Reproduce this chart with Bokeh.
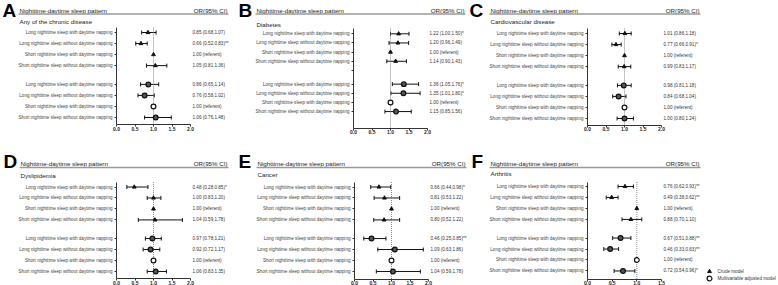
import numpy as np
from bokeh.plotting import figure
from bokeh.models import (Range1d, LinearAxis, FixedTicker, ColumnDataSource,
                          Whisker, TeeHead, PrintfTickFormatter)
from bokeh.layouts import column, row
from bokeh.embed import file_html
from bokeh.resources import INLINE
from bokeh.core.properties import value

FONT = "Liberation Sans"

# ---------------- data ----------------
row_labels = ["Long nighttime sleep with daytime napping",
              "Long nighttime sleep without daytime napping",
              "Short nighttime sleep with daytime napping",
              "Short nighttime sleep without daytime napping"]
letters = ["A", "B", "C", "D", "E", "F"]
diseases = ["Any of the chronic disease", "Diabetes", "Cardiovascular disease",
            "Dyslipidemia", "Cancer", "Arthritis"]
header_left = "Nighttime-daytime sleep pattern"
header_right = "OR(95% CI)"
legend_labels = ["Crude model", "Multivariable adjusted model"]
x_ticks_20 = [0.0, 0.5, 1.0, 1.5, 2.0]
x_ticks_15 = [0.0, 0.5, 1.0, 1.5]

# A: any chronic disease
a_crude_or = [0.85, 0.66, 1.00, 1.05]
a_crude_lo = [0.68, 0.52, None, 0.81]
a_crude_hi = [1.07, 0.83, None, 1.36]
a_crude_sig = ["", "**", "", ""]
a_adj_or = [0.86, 0.76, 1.00, 1.06]
a_adj_lo = [0.65, 0.58, None, 0.76]
a_adj_hi = [1.14, 1.02, None, 1.48]
a_adj_sig = ["", "", "", ""]

# B: diabetes
b_crude_or = [1.22, 1.20, 1.00, 1.14]
b_crude_lo = [1.00, 0.96, None, 0.90]
b_crude_hi = [1.50, 1.49, None, 1.43]
b_crude_sig = ["*", "", "", ""]
b_adj_or = [1.36, 1.35, 1.00, 1.15]
b_adj_lo = [1.05, 1.01, None, 0.85]
b_adj_hi = [1.76, 1.80, None, 1.56]
b_adj_sig = ["*", "*", "", ""]

# C: cardiovascular disease
c_crude_or = [1.01, 0.77, 1.00, 0.99]
c_crude_lo = [0.86, 0.66, None, 0.83]
c_crude_hi = [1.18, 0.91, None, 1.17]
c_crude_sig = ["", "*", "", ""]
c_adj_or = [0.98, 0.84, 1.00, 1.00]
c_adj_lo = [0.81, 0.68, None, 0.80]
c_adj_hi = [1.18, 1.04, None, 1.24]
c_adj_sig = ["", "", "", ""]

# D: dyslipidemia
d_crude_or = [0.48, 1.00, 1.00, 1.04]
d_crude_lo = [0.28, 0.83, None, 0.59]
d_crude_hi = [0.85, 1.20, None, 1.78]
d_crude_sig = ["*", "", "", ""]
d_adj_or = [0.97, 0.92, 1.00, 1.06]
d_adj_lo = [0.78, 0.72, None, 0.83]
d_adj_hi = [1.21, 1.17, None, 1.35]
d_adj_sig = ["", "", "", ""]

# E: cancer
e_crude_or = [0.66, 0.81, 1.00, 0.80]
e_crude_lo = [0.44, 0.53, None, 0.52]
e_crude_hi = [0.98, 1.22, None, 1.22]
e_crude_sig = ["*", "", "", ""]
e_adj_or = [0.46, 1.09, 1.00, 1.04]
e_adj_lo = [0.25, 0.63, None, 0.59]
e_adj_hi = [0.85, 1.86, None, 1.78]
e_adj_sig = ["**", "", "", ""]

# F: arthritis
f_crude_or = [0.76, 0.49, 1.00, 0.88]
f_crude_lo = [0.62, 0.38, None, 0.70]
f_crude_hi = [0.93, 0.62, None, 1.10]
f_crude_sig = ["**", "**", "", ""]
f_adj_or = [0.67, 0.46, 1.00, 0.72]
f_adj_lo = [0.51, 0.33, None, 0.54]
f_adj_hi = [0.88, 0.63, None, 0.96]
f_adj_sig = ["**", "**", "", "*"]

panels_data = [
    ((a_crude_or, a_crude_lo, a_crude_hi, a_crude_sig), (a_adj_or, a_adj_lo, a_adj_hi, a_adj_sig)),
    ((b_crude_or, b_crude_lo, b_crude_hi, b_crude_sig), (b_adj_or, b_adj_lo, b_adj_hi, b_adj_sig)),
    ((c_crude_or, c_crude_lo, c_crude_hi, c_crude_sig), (c_adj_or, c_adj_lo, c_adj_hi, c_adj_sig)),
    ((d_crude_or, d_crude_lo, d_crude_hi, d_crude_sig), (d_adj_or, d_adj_lo, d_adj_hi, d_adj_sig)),
    ((e_crude_or, e_crude_lo, e_crude_hi, e_crude_sig), (e_adj_or, e_adj_lo, e_adj_hi, e_adj_sig)),
    ((f_crude_or, f_crude_lo, f_crude_hi, f_crude_sig), (f_adj_or, f_adj_lo, f_adj_hi, f_adj_sig)),
]
x_ticks_per_panel = [x_ticks_20] * 5 + [x_ticks_15]

# ---------------- layout (pixels) ----------------
col_w = [236, 231, 311]
row_h = [150, 135]
axis_px = [[116, 117, 120], [116, 118, 120]]
header_px = [[19, 20, 23], [20, 21, 23]]
letter_px = [[2, 2, 2], [3, 2, 4]]
or_end_px = [[227, 228, 232], [227, 229, 232]]
header_y = [9.5, 13]
letter_y = [9.5, 10.5]
row0_px = [32, 33.3, 33, 36.5, 36.5, 36]
row_sp = [11.04, 9.15, 11.04, 10.97, 10.97, 10.97]
xaxis_px = [124, 127.5, 124.5, 128, 128.5, 128.5]
ytop_px = [27, 28, 28, 31.5, 31.5, 31.5]
sub_y = [20.7, 23.5, 21, 25, 24, 23]
AXIS_LEN = 74.0
crude_slots = [0, 1, 2, 3]
adj_slots = [4.7, 5.7, 6.7, 7.7]
adj_slots_b = [5.5, 6.5, 7.5, 8.5]
blank_slot_b = 4


def fmt(o, lo, hi, s):
    if lo is None:
        return f"{o:.2f} (referent)"
    return f"{o:.2f} ({lo:.2f},{hi:.2f}){s}"


def make_panel(i):
    r, c = divmod(i, 3)
    W, H = col_w[c], row_h[r]
    xt = x_ticks_per_panel[i]
    xmax = xt[-1]
    ppu = AXIS_LEN / xmax
    ax = axis_px[r][c]
    r0, sp = row0_px[i], row_sp[i]

    def xd(px):
        return (px - ax) / ppu

    def yd(px):
        return (px - r0) / sp

    p = figure(width=W, height=H, x_range=Range1d(xd(0), xd(W)),
               y_range=Range1d(yd(H), yd(0)), x_axis_type=None, y_axis_type=None,
               output_backend="svg", toolbar_location=None, min_border=0)
    p.outline_line_color = None
    p.background_fill_color = "white"
    p.border_fill_color = "white"

    cs = crude_slots
    ads = adj_slots_b if i == 1 else adj_slots
    ticks = list(cs) + list(ads)
    overrides = {}
    for t, lab in zip(cs, row_labels):
        overrides[t] = lab
    for t, lab in zip(ads, row_labels):
        overrides[t] = lab
    if i == 1:
        ticks.append(blank_slot_b)
        overrides[blank_slot_b] = ""

    yax = LinearAxis(ticker=FixedTicker(ticks=ticks, minor_ticks=[]),
                     major_label_overrides=overrides, fixed_location=0,
                     bounds=(yd(ytop_px[i]), yd(xaxis_px[i])))
    yax.axis_line_color = "#333"
    yax.major_tick_line_color = "#333"
    yax.major_tick_in = 0
    yax.major_tick_out = 2
    yax.minor_tick_in = 0
    yax.minor_tick_out = 0
    yax.major_label_standoff = 2
    yax.major_label_text_font = FONT
    yax.major_label_text_font_size = "4.6px"
    yax.major_label_text_color = "#444"
    p.add_layout(yax, "left")

    xax = LinearAxis(ticker=FixedTicker(ticks=xt, minor_ticks=[]),
                     formatter=PrintfTickFormatter(format="%.1f"),
                     fixed_location=yd(xaxis_px[i]), bounds=(0, xmax))
    xax.axis_line_color = "#333"
    xax.major_tick_line_color = "#333"
    xax.major_tick_in = 0
    xax.major_tick_out = 2
    xax.minor_tick_in = 0
    xax.minor_tick_out = 0
    xax.major_label_standoff = 0
    xax.major_label_text_font = FONT
    xax.major_label_text_font_size = "5px"
    xax.major_label_text_font_style = "bold"
    xax.major_label_text_color = "#222"
    p.add_layout(xax, "below")

    # reference line at OR = 1
    p.segment(x0=[1.0], x1=[1.0], y0=[yd(ytop_px[i])], y1=[yd(xaxis_px[i])],
              line_color="#888", line_dash="1 1", line_width=1)

    (c_or, c_lo, c_hi, c_sig), (a_or, a_lo, a_hi, a_sig) = panels_data[i]

    # whiskers
    wy, wlo, whi = [], [], []
    for slots, lo, hi in ((cs, c_lo, c_hi), (ads, a_lo, a_hi)):
        for y, l, h in zip(slots, lo, hi):
            if l is not None:
                wy.append(y); wlo.append(l); whi.append(h)
    wsrc = ColumnDataSource(dict(y=wy, lo=wlo, hi=whi))
    w = Whisker(source=wsrc, base="y", lower="lo", upper="hi", dimension="width",
                line_color="#111", line_width=1,
                upper_head=TeeHead(size=4, line_color="#111", line_width=1),
                lower_head=TeeHead(size=4, line_color="#111", line_width=1))
    p.add_layout(w)

    # markers
    p.scatter(x=c_or, y=cs, marker="triangle", size=3.8,
              fill_color="#111", line_color="#111")
    a_fill = ["white" if l is None else "#555" for l in a_lo]
    asrc = ColumnDataSource(dict(x=a_or, y=ads, fill=a_fill))
    p.scatter(x="x", y="y", source=asrc, marker="circle", size=4.8,
              fill_color="fill", line_color="#111", line_width=1.2)

    # OR text column
    txt = [fmt(o, l, h, s) for o, l, h, s in zip(c_or, c_lo, c_hi, c_sig)] + \
          [fmt(o, l, h, s) for o, l, h, s in zip(a_or, a_lo, a_hi, a_sig)]
    p.text(x=[xd(ax + 76)] * len(txt), y=list(cs) + list(ads), text=txt,
           text_font=value(FONT), text_font_size="4.6px", text_baseline="middle",
           text_color="#333")

    # header
    hy = header_y[r]
    p.text(x=[xd(header_px[r][c])], y=[yd(hy)], text=[header_left],
           text_font=value(FONT), text_font_size="6.2px", text_baseline="middle",
           text_color="#222")
    p.text(x=[xd(or_end_px[r][c])], y=[yd(hy)], text=[header_right],
           text_font=value(FONT), text_font_size="6.2px", text_baseline="middle",
           text_align="right", text_color="#222")
    p.segment(x0=[xd(header_px[r][c] - 1)], x1=[xd(or_end_px[r][c] + 1)],
              y0=[yd(hy + 4)], y1=[yd(hy + 4)], line_color="#999", line_width=1.5)
    p.text(x=[xd(header_px[r][c])], y=[yd(sub_y[i])], text=[diseases[i]],
           text_font=value(FONT), text_font_size="6.2px", text_baseline="middle",
           text_color="#222")
    p.text(x=[xd(letter_px[r][c])], y=[yd(letter_y[r])], text=[letters[i]],
           text_font=value(FONT), text_font_size="19px", text_font_style="bold",
           text_baseline="middle", text_color="black")

    if i == 5:
        lx = xd(242)
        p.scatter(x=[lx], y=[yd(121)], marker="triangle", size=3.8,
                  fill_color="#111", line_color="#111")
        p.scatter(x=[lx], y=[yd(128)], marker="circle", size=4.8,
                  fill_color="white", line_color="#111", line_width=1.2)
        p.text(x=[xd(250)] * 2, y=[yd(121), yd(128)], text=legend_labels,
               text_font=value(FONT), text_font_size="4.6px", text_baseline="middle",
               text_color="#333")
    return p


figs = [make_panel(i) for i in range(6)]
layout = column(row(*figs[:3]), row(*figs[3:]))
open("out.html", "w").write(file_html(layout, INLINE))
